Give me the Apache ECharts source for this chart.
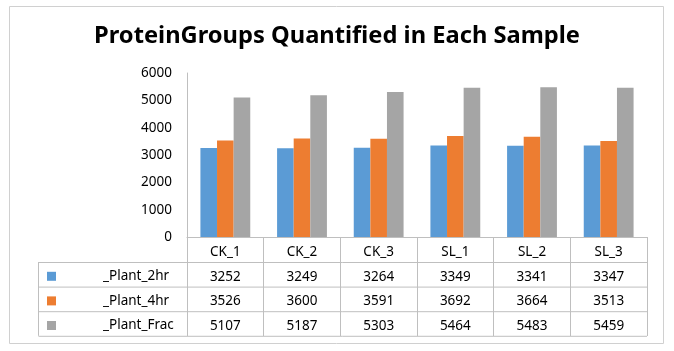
<!DOCTYPE html>
<html>
<head>
<meta charset="utf-8">
<script src="https://cdn.jsdelivr.net/npm/echarts@6/dist/echarts.min.js"></script>
<style>
html,body{margin:0;padding:0;background:#fff;}
#c{width:674px;height:351px;}
</style>
</head>
<body>
<div id="c"></div>
<script>
const titleText = 'ProteinGroups Quantified in Each Sample';
const categories = ['CK_1', 'CK_2', 'CK_3', 'SL_1', 'SL_2', 'SL_3'];
const seriesNames = ['_Plant_2hr', '_Plant_4hr', '_Plant_Frac'];
const plant2hr = [3252, 3249, 3264, 3349, 3341, 3347];
const plant4hr = [3526, 3600, 3591, 3692, 3664, 3513];
const plantFrac = [5107, 5187, 5303, 5464, 5483, 5459];
const yTicks = [0, 1000, 2000, 3000, 4000, 5000, 6000];
const colors = ['#5B9BD5', '#ED7D31', '#A5A5A5'];

const seriesValues = [plant2hr, plant4hr, plantFrac];
const FONT = 'Noto Sans';
const ROW = 24.6;
const lineColor = '#BFBFBF';

const chart = echarts.init(document.getElementById('c'), null, {renderer: 'canvas'});

const tableLinesY = [262, 286.6, 311.2, 335.8];
const graphics = [
  {type: 'rect', shape: {x: 9.5, y: 6.5, width: 654, height: 337}, style: {fill: 'none', stroke: '#D0D0D0', lineWidth: 1}, silent: true},
  {type: 'line', shape: {x1: 38.5, y1: 262, x2: 38.5, y2: 335.8}, style: {stroke: lineColor, lineWidth: 1}, silent: true}
];
tableLinesY.forEach(y => {
  graphics.push({type: 'line', shape: {x1: 38.5, y1: y + 0.5, x2: 647, y2: y + 0.5}, style: {stroke: lineColor, lineWidth: 1}, silent: true});
});

const option = {
  backgroundColor: '#fff',
  animation: false,
  color: colors,
  title: {
    text: titleText,
    left: 'center',
    top: 19,
    textStyle: {fontFamily: FONT, fontWeight: 'bold', fontSize: 23.7, color: '#000'}
  },
  legend: {
    orient: 'vertical',
    left: 42,
    top: 259,
    itemGap: 0,
    itemWidth: 9,
    itemHeight: 9,
    icon: 'rect',
    data: seriesNames,
    textStyle: {fontFamily: FONT, fontSize: 13.5, color: '#000', lineHeight: ROW, height: ROW, padding: [0, 0, 0, 42]}
  },
  grid: {left: 187, right: 27, top: 73, bottom: 114},
  xAxis: {
    type: 'category',
    data: categories,
    axisLine: {show: true, lineStyle: {color: lineColor, width: 1}},
    axisTick: {show: true, interval: 0, length: 99, lineStyle: {color: lineColor}},
    axisLabel: {
      interval: 0,
      margin: 3,
      formatter: function (value, idx) {
        return '{c|' + value + '}\n' + seriesValues.map(s => '{v|' + s[idx] + '}').join('\n');
      },
      rich: {
        c: {fontFamily: FONT, fontSize: 13.5, color: '#000', lineHeight: ROW, height: ROW},
        v: {fontFamily: FONT, fontSize: 13.5, color: '#000', lineHeight: ROW, height: ROW}
      }
    }
  },
  yAxis: {
    type: 'value',
    min: yTicks[0],
    max: yTicks[yTicks.length - 1],
    interval: yTicks[1] - yTicks[0],
    axisLine: {show: true, lineStyle: {color: lineColor}},
    axisTick: {show: false},
    splitLine: {show: false},
    axisLabel: {margin: 15, fontFamily: FONT, fontSize: 13.5, color: '#000', formatter: v => String(v)}
  },
  series: seriesNames.map((n, i) => ({
    name: n,
    type: 'bar',
    data: seriesValues[i],
    barGap: '0%',
    barCategoryGap: '35%',
    itemStyle: {color: colors[i]}
  })),
  graphic: graphics
};
chart.setOption(option);
</script>
</body>
</html>
